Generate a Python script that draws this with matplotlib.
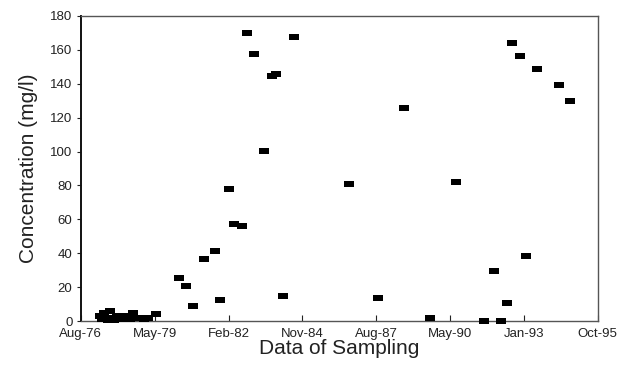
import matplotlib
matplotlib.use("Agg")
import matplotlib.pyplot as plt

plt.rcParams['font.family'] = ['Liberation Sans', 'DejaVu Sans']

# Sampling dates (decimal years) and concentrations (mg/l)
dates = [1977.29, 1977.37, 1977.44, 1977.51, 1977.59, 1977.66, 1977.74, 1977.81,
         1977.92, 1978.04, 1978.18, 1978.30, 1978.41, 1978.52, 1978.63, 1978.78,
         1978.93, 1979.08, 1979.38, 1980.23, 1980.49, 1980.75, 1981.16, 1981.57,
         1981.76, 1982.09, 1982.28, 1982.58, 1982.76, 1983.02, 1983.40, 1983.69,
         1983.84, 1984.10, 1984.51, 1986.56, 1987.64, 1988.61, 1989.58, 1990.54,
         1991.59, 1991.96, 1992.22, 1992.44, 1992.63, 1992.93, 1993.15, 1993.56,
         1994.38, 1994.79]
conc = [3, 1, 5, 2, 0.5, 6, 2, 0.5,
        3, 1, 2, 3, 1, 5, 2, 1.5,
        1, 1.5, 4.1, 25.4, 20.7, 8.9, 36.6, 41.3,
        12.4, 77.9, 57.3, 56.1, 170, 157.6, 100.4, 144.6,
        145.8, 14.8, 167.6, 80.9, 13.6, 125.7, 1.8, 82.1,
        0.3, 29.5, 0.3, 10.6, 164, 156.4, 38.4, 148.8,
        139.3, 129.9]

tick_labels = ['Aug-76', 'May-79', 'Feb-82', 'Nov-84', 'Aug-87', 'May-90', 'Jan-93', 'Oct-95']
tick_start = 1976.583
tick_step = 2.75
tick_pos = [tick_start + i * tick_step for i in range(len(tick_labels))]
y_ticks = [0, 20, 40, 60, 80, 100, 120, 140, 160, 180]

fig = plt.figure(figsize=(6.22, 3.70), dpi=100)
ax = fig.add_axes([0.130, 0.1324, 0.831, 0.8244])

rect = [(-1.6, -1), (1.6, -1), (1.6, 1), (-1.6, 1), (-1.6, -1)]
ax.plot(dates, conc, linestyle='none', marker=rect, markersize=6.5,
        color='black', markeredgewidth=0, clip_on=False, zorder=3)

ax.set_xlim(tick_pos[0], tick_pos[-1])
ax.set_ylim(0, 180)
ax.set_xticks(tick_pos)
ax.set_xticklabels(tick_labels)
ax.set_yticks(y_ticks)
ax.set_yticklabels([str(v) for v in y_ticks])

ax.tick_params(axis='x', direction='in', length=4, width=0.8, labelsize=9.5, pad=5, colors='#222222')
ax.tick_params(axis='y', direction='out', length=3, width=0.8, labelsize=9.5, pad=3, colors='#222222')

for side in ['top', 'bottom', 'right']:
    ax.spines[side].set_color('#555555')
    ax.spines[side].set_linewidth(1.0)
ax.spines['left'].set_color('#111111')
ax.spines['left'].set_linewidth(1.4)

ax.set_xlabel('Data of Sampling', fontsize=15, color='#222222', labelpad=-1)
ax.set_ylabel('Concentration (mg/l)', fontsize=15, color='#222222', labelpad=9)

fig.savefig('out.png', dpi=100)
